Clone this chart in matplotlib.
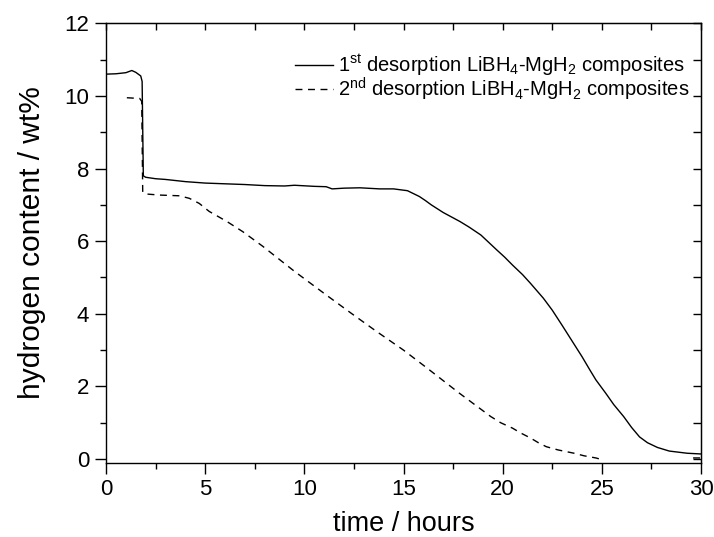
import matplotlib
matplotlib.use('Agg')
import matplotlib.pyplot as plt
import numpy as np
from matplotlib.ticker import MultipleLocator

# 1st desorption (solid)
t1 = [0.0, 0.5, 1.0, 1.3, 1.5, 1.75, 1.82, 1.88, 2.0, 2.5, 3.0, 4.0, 5.0, 6.0, 7.0,
      8.0, 9.0, 9.5, 10.5, 11.1, 11.4, 12.0, 12.8, 13.8, 14.5, 15.2, 15.8, 16.1,
      16.4, 17.0, 17.85, 18.3, 18.9, 19.7, 20.1, 20.5, 21.0, 21.4, 22.05, 22.5,
      23.0, 23.5, 24.0, 24.4, 24.7, 25.2, 25.6, 26.1, 26.5, 26.9, 27.3, 27.8,
      28.4, 29.3, 30.0]
h1 = [10.60, 10.61, 10.64, 10.70, 10.65, 10.55, 10.40, 7.80, 7.76, 7.72, 7.70, 7.64,
      7.60, 7.58, 7.56, 7.53, 7.52, 7.54, 7.51, 7.50, 7.44, 7.46, 7.47, 7.44, 7.44,
      7.39, 7.23, 7.12, 7.00, 6.79, 6.54, 6.39, 6.17, 5.76, 5.56, 5.34, 5.08, 4.84,
      4.43, 4.10, 3.68, 3.25, 2.82, 2.45, 2.18, 1.81, 1.50, 1.17, 0.87, 0.61, 0.45,
      0.32, 0.22, 0.16, 0.14]

# 2nd desorption (dashed)
t2 = [1.05, 1.7, 1.8, 1.85, 2.0, 2.7, 3.7, 4.2, 4.7, 5.2, 6.1, 6.9, 7.9, 9.5, 11.1,
      12.4, 13.65, 15.0, 16.2, 17.8, 19.4, 19.9, 20.5, 20.9, 21.4, 21.8, 22.2,
      22.8, 23.6, 24.1, 24.7, 24.9, 27.0, 29.6, 30.0]
h2 = [9.95, 9.93, 9.85, 7.35, 7.30, 7.27, 7.25, 7.18, 7.04, 6.82, 6.54, 6.26, 5.86,
      5.17, 4.52, 4.00, 3.51, 3.00, 2.50, 1.82, 1.17, 1.00, 0.85, 0.72, 0.58, 0.45,
      0.34, 0.25, 0.16, 0.09, 0.03, 0.00, np.nan, 0.03, 0.03]

plt.rcParams['font.family'] = ['Liberation Sans', 'DejaVu Sans']
plt.rcParams['mathtext.default'] = 'regular'

fig = plt.figure(figsize=(7.14, 5.37), dpi=100)
ax = fig.add_axes([0.1485, 0.1384, 0.8333, 0.8182])

ax.plot(t1, h1, color='black', lw=1.0,
        label=r'1$^{st}$ desorption LiBH$_{4}$-MgH$_{2}$ composites')
ax.plot(t2, h2, color='black', lw=1.0, linestyle=(0, (5, 4)),
        label=r'2$^{nd}$ desorption LiBH$_{4}$-MgH$_{2}$ composites')

ax.set_xlim(0, 30)
ax.set_ylim(-0.1, 12)
ax.xaxis.set_major_locator(MultipleLocator(5))
ax.xaxis.set_minor_locator(MultipleLocator(2.5))
ax.yaxis.set_major_locator(MultipleLocator(2))
ax.yaxis.set_minor_locator(MultipleLocator(1))
ax.tick_params(which='major', direction='out', length=8, width=1, labelsize=16, pad=4)
ax.tick_params(which='minor', direction='out', length=4, width=1)
for s in ax.spines.values():
    s.set_linewidth(1.0)

# mirrored inward ticks on top and right
top = ax.secondary_xaxis('top')
top.xaxis.set_major_locator(MultipleLocator(2.5))
top.tick_params(direction='in', length=5, width=1, labeltop=False)
right = ax.secondary_yaxis('right')
right.yaxis.set_major_locator(MultipleLocator(1))
right.tick_params(direction='in', length=6, width=1, labelright=False)

ax.set_xlabel('time / hours', fontsize=19.5, labelpad=8)
ax.set_ylabel('hydrogen content / wt%', fontsize=21.5, labelpad=13)

ax.legend(loc='upper right', bbox_to_anchor=(1.004, 0.966), frameon=False,
          fontsize=14.5, handlelength=1.9, handletextpad=0.25, labelspacing=-0.1,
          borderaxespad=0.3)

fig.savefig('out.png', dpi=100)
